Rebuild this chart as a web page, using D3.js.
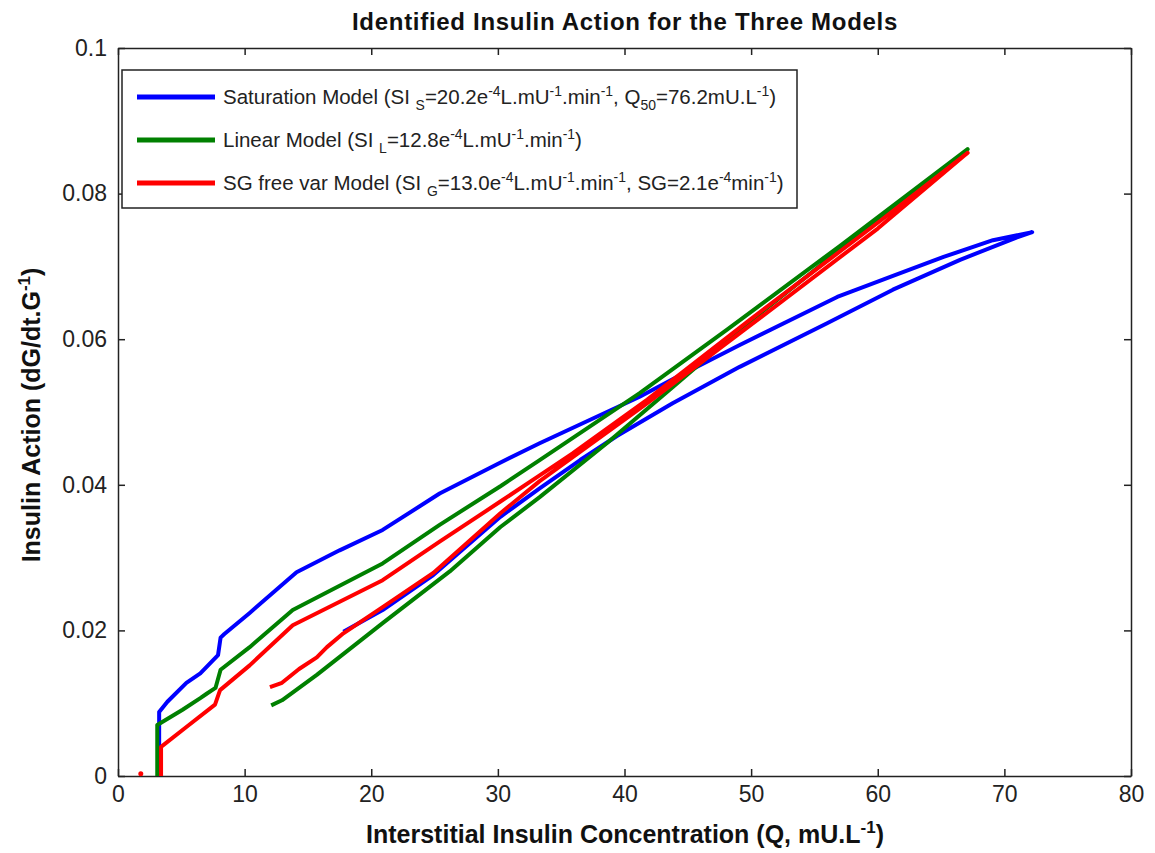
<!DOCTYPE html>
<html lang="en">
<head>
<meta charset="UTF-8">
<title>Identified Insulin Action for the Three Models</title>
<script src="https://d3js.org/d3.v7.min.js"></script>
<style>
  body { margin: 0; background: #fff; }
  svg { display: block; font-family: 'Liberation Sans', Arial, sans-serif; }
  .tick text { font-size: 23px; fill: #222; }
  .tick line, .domain { stroke: #222; stroke-width: 1.5px; }
</style>
</head>
<body>
<div id="chart"></div>
<script>
// Saturation model (blue) - loop, upper branch then return branch
const satQ = [3.25, 3.25, 3.9, 5.4, 6.5, 7.9, 8.1, 8.4, 10.4, 14.1, 17.5, 20.9, 25.4, 29.9, 33.3, 41.2, 43.8, 49.1, 56.8, 61.2, 65.2, 69.1, 72.2,
              71.0, 66.5, 61.2, 56.0, 49.1, 43.8, 39.4, 36.5, 33.3, 30.2, 24.9, 20.9, 17.8];
const satA = [0, 0.0088, 0.0102, 0.0128, 0.0141, 0.0166, 0.0190, 0.0195, 0.0224, 0.0280, 0.0310, 0.0338, 0.0388, 0.0428, 0.0457, 0.0521, 0.0545, 0.0592, 0.0658, 0.0687, 0.0713, 0.0736, 0.0747,
              0.0740, 0.0709, 0.0668, 0.0622, 0.0562, 0.0512, 0.0467, 0.0434, 0.0395, 0.0356, 0.0276, 0.0228, 0.0198];

// Linear model (green)
const linQ = [3.1, 3.1, 5.1, 6.5, 7.0, 7.7, 8.1, 10.4, 13.8, 20.9, 25.4, 30.2, 33.3, 41.2, 48.1, 57.0, 67.1,
              60.0, 49.1, 43.8, 38.6, 33.3, 30.2, 26.2, 20.9, 15.7, 12.95, 12.1];
const linA = [0, 0.0070, 0.0091, 0.0107, 0.0113, 0.0121, 0.0146, 0.0177, 0.0228, 0.0292, 0.0345, 0.0398, 0.0434, 0.0526, 0.0613, 0.0728, 0.0861,
              0.0764, 0.0613, 0.0534, 0.0457, 0.0383, 0.0342, 0.0281, 0.0210, 0.0139, 0.0104, 0.0097];

// SG free var model (red)
const sgQ = [3.4, 3.4, 5.45, 7.66, 8.06, 10.4, 13.8, 20.9, 25.4, 30.2, 33.3, 35.9, 41.8, 50.0, 60.0, 67.1,
             60.0, 50.0, 41.8, 33.3, 30.2, 24.9, 20.9, 17.8, 16.5, 15.7, 14.3, 12.95, 12.0];
const sgA = [0, 0.0040, 0.0068, 0.0098, 0.0118, 0.0152, 0.0207, 0.0269, 0.0322, 0.0377, 0.0413, 0.0443, 0.0517, 0.0628, 0.0760, 0.0856,
             0.0752, 0.0620, 0.0512, 0.0405, 0.0361, 0.0279, 0.0232, 0.0196, 0.0177, 0.0163, 0.0147, 0.0128, 0.0122];
// isolated first SG sample
const sgDotQ = [1.8];
const sgDotA = [0.0003];

const xTicks = [0, 10, 20, 30, 40, 50, 60, 70, 80];
const yTicks = [0, 0.02, 0.04, 0.06, 0.08, 0.1];
const yTickLabels = ["0", "0.02", "0.04", "0.06", "0.08", "0.1"];

const W = 1155, H = 853;
const box = { left: 118, right: 1131, top: 48, bottom: 776 };

const svg = d3.select("#chart").append("svg")
    .attr("width", W)
    .attr("height", H);

const x = d3.scaleLinear().domain([0, 80]).range([box.left, box.right]);
const y = d3.scaleLinear().domain([0, 0.1]).range([box.bottom, box.top]);

// axes, matlab style: ticks pointing inward on all four sides
svg.append("g")
    .attr("transform", `translate(0,${box.bottom})`)
    .call(d3.axisBottom(x).tickValues(xTicks).tickSize(-7).tickSizeOuter(0).tickPadding(10));
svg.append("g")
    .attr("transform", `translate(0,${box.top})`)
    .call(d3.axisTop(x).tickValues(xTicks).tickSize(-7).tickSizeOuter(0).tickFormat(""));
svg.append("g")
    .attr("transform", `translate(${box.left},0)`)
    .call(d3.axisLeft(y).tickValues(yTicks).tickSize(-7).tickSizeOuter(0).tickPadding(11)
        .tickFormat((d, i) => yTickLabels[i]));
svg.append("g")
    .attr("transform", `translate(${box.right},0)`)
    .call(d3.axisRight(y).tickValues(yTicks).tickSize(-7).tickSizeOuter(0).tickFormat(""));

svg.selectAll(".tick text").attr("font-family", null).attr("font-size", null);

// series
const line = d3.line().x(d => x(d[0])).y(d => y(d[1]));
const series = [
    { q: satQ, a: satA, color: "#0000ff" },
    { q: linQ, a: linA, color: "#008000" },
    { q: sgQ,  a: sgA,  color: "#ff0000" }
];
svg.selectAll(".series")
    .data(series)
    .enter()
    .append("path")
    .attr("class", "series")
    .attr("d", d => line(d3.zip(d.q, d.a)))
    .attr("fill", "none")
    .attr("stroke", d => d.color)
    .attr("stroke-width", 4)
    .attr("stroke-linejoin", "round");

svg.selectAll(".sgdot")
    .data(d3.zip(sgDotQ, sgDotA))
    .enter()
    .append("circle")
    .attr("cx", d => x(d[0]))
    .attr("cy", d => y(d[1]))
    .attr("r", 2.5)
    .attr("fill", "#ff0000");

// rich text helper: segments of {t, sub, sup}
function rich(sel, parts, size) {
    let shift = 0;
    parts.forEach(p => {
        const target = p.sub ? Math.round(size * 0.3) : p.sup ? -Math.round(size * 0.4) : 0;
        sel.append("tspan")
            .attr("dy", target - shift)
            .attr("font-size", p.sub || p.sup ? size * 0.68 : size)
            .text(p.t);
        shift = target;
    });
}

// legend
const legendItems = [
    { color: "#0000ff", parts: [{ t: "Saturation Model (SI " }, { t: "S", sub: 1 }, { t: "=20.2e" }, { t: "-4", sup: 1 },
        { t: "L.mU" }, { t: "-1", sup: 1 }, { t: ".min" }, { t: "-1", sup: 1 }, { t: ", Q" }, { t: "50", sub: 1 },
        { t: "=76.2mU.L" }, { t: "-1", sup: 1 }, { t: ")" }] },
    { color: "#008000", parts: [{ t: "Linear Model (SI " }, { t: "L", sub: 1 }, { t: "=12.8e" }, { t: "-4", sup: 1 },
        { t: "L.mU" }, { t: "-1", sup: 1 }, { t: ".min" }, { t: "-1", sup: 1 }, { t: ")" }] },
    { color: "#ff0000", parts: [{ t: "SG free var Model (SI " }, { t: "G", sub: 1 }, { t: "=13.0e" }, { t: "-4", sup: 1 },
        { t: "L.mU" }, { t: "-1", sup: 1 }, { t: ".min" }, { t: "-1", sup: 1 }, { t: ", SG=2.1e" }, { t: "-4", sup: 1 },
        { t: "min" }, { t: "-1", sup: 1 }, { t: ")" }] }
];

const legend = svg.append("g").attr("transform", "translate(122,70)");
legend.append("rect")
    .attr("width", 675).attr("height", 138)
    .attr("fill", "#fff").attr("stroke", "#222").attr("stroke-width", 1.5);

const entry = legend.selectAll(".entry")
    .data(legendItems)
    .enter()
    .append("g")
    .attr("class", "entry")
    .attr("transform", (d, i) => `translate(0,${27 + i * 43})`);
entry.append("line")
    .attr("x1", 15).attr("x2", 93)
    .attr("stroke", d => d.color).attr("stroke-width", 5);
entry.append("text")
    .attr("x", 101).attr("y", 7)
    .attr("fill", "#222")
    .each(function (d) { rich(d3.select(this), d.parts, 20.5); });

// title and axis labels
svg.append("text")
    .attr("x", 625).attr("y", 30)
    .attr("text-anchor", "middle")
    .attr("font-weight", "bold").attr("font-size", 24)
    .attr("letter-spacing", 0.7)
    .attr("fill", "#111")
    .text("Identified Insulin Action for the Three Models");

const xl = svg.append("text")
    .attr("x", 625).attr("y", 843)
    .attr("text-anchor", "middle")
    .attr("font-weight", "bold")
    .attr("fill", "#111");
rich(xl, [{ t: "Interstitial Insulin Concentration (Q, mU.L" }, { t: "-1", sup: 1 }, { t: ")" }], 25);

const yl = svg.append("text")
    .attr("transform", "translate(40,415) rotate(-90)")
    .attr("text-anchor", "middle")
    .attr("font-weight", "bold")
    .attr("fill", "#111");
rich(yl, [{ t: "Insulin Action (dG/dt.G" }, { t: "-1", sup: 1 }, { t: ")" }], 25);
</script>
</body>
</html>
